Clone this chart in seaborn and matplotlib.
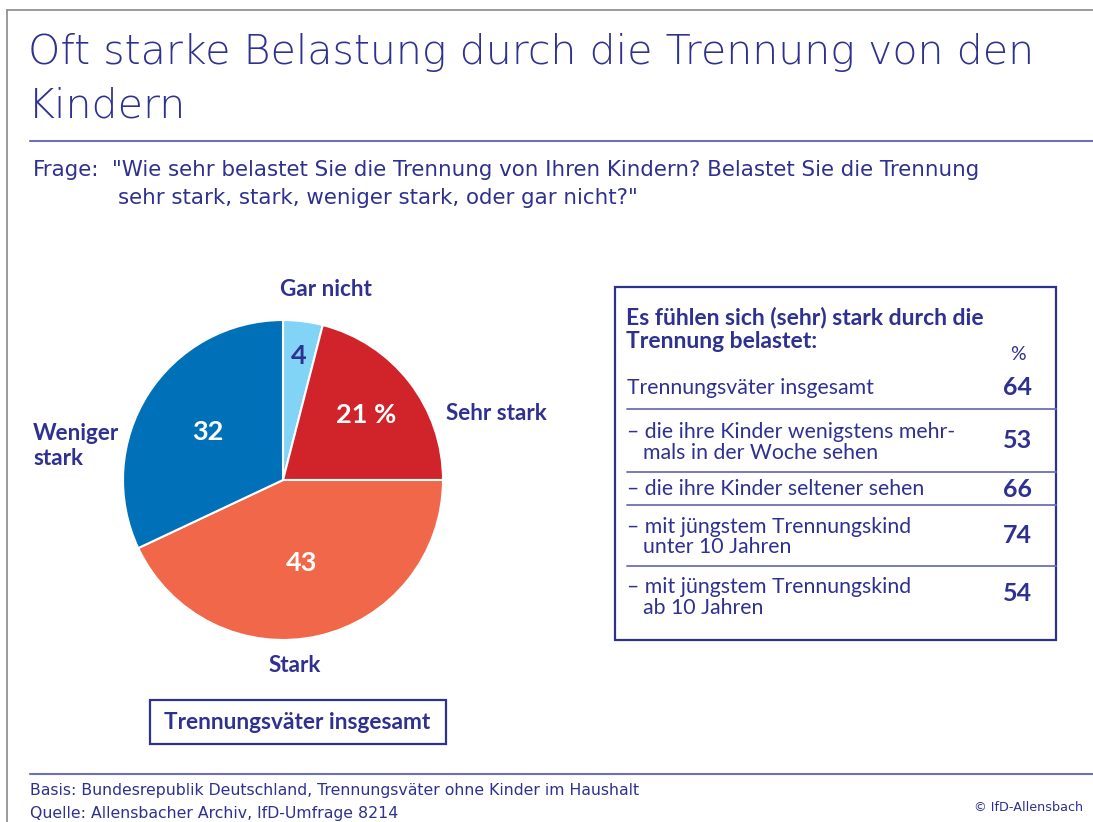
import matplotlib.pyplot as plt
import seaborn as sns
import numpy as np
from matplotlib.patches import Rectangle

# pie: share of fathers by how strongly separation from children burdens them
answers = ["Gar nicht", "Sehr stark", "Stark", "Weniger stark"]
shares = [4, 21, 43, 32]
share_texts = ["4", "21 %", "43", "32"]

# table: (very) strongly burdened, by group
groups = [
    ["Trennungsväter insgesamt"],
    ["– die ihre Kinder wenigstens mehr-", "mals in der Woche sehen"],
    ["– die ihre Kinder seltener sehen"],
    ["– mit jüngstem Trennungskind", "unter 10 Jahren"],
    ["– mit jüngstem Trennungskind", "ab 10 Jahren"],
]
group_values = [64, 53, 66, 74, 54]

navy = "#2e3190"
rule = "#6d70b8"
pie_colors = ["#82d4f6", "#d1232a", "#f0674a", "#0071b9"]

sns.set_theme(style="white")
plt.rcParams["font.family"] = ["DejaVu Sans"]
side = ["Lato", "DejaVu Sans"]

fig = plt.figure(figsize=(10.93, 8.22), dpi=100)
bg = fig.add_axes([0, 0, 1, 1])
bg.set_xlim(0, 1093)
bg.set_ylim(822, 0)
bg.axis("off")

# frame and rules
bg.plot([7, 1093], [10, 10], color="#8a8a8a", lw=1.2)
bg.plot([7, 7], [10, 822], color="#8a8a8a", lw=1.2)
bg.plot([30, 1093], [141, 141], color=rule, lw=1.5)
bg.plot([30, 1093], [774, 774], color=rule, lw=1.5)

# title and question
bg.text(28, 64, "Oft starke Belastung durch die Trennung von den", fontsize=29.6,
        color=navy, va="baseline", fontweight="light")
bg.text(28, 117, "Kindern", fontsize=29.6, color=navy, va="baseline", fontweight="light")
bg.text(33, 170, "Frage:", fontsize=15.4, color=navy, va="center")
bg.text(112, 170, "\"Wie sehr belastet Sie die Trennung von Ihren Kindern? Belastet Sie die Trennung",
        fontsize=15.4, color=navy, va="center")
bg.text(118, 198, "sehr stark, stark, weniger stark, oder gar nicht?\"",
        fontsize=15.4, color=navy, va="center")

# pie
cx, cy, r = 283, 480, 160
ax = fig.add_axes([(cx - r) / 1093, (822 - cy - r) / 822, 2 * r / 1093, 2 * r / 822])
wedges, _ = ax.pie(shares, colors=pie_colors, startangle=90, counterclock=False,
                   wedgeprops=dict(edgecolor="white", linewidth=1.5))
ax.set_xlim(-1, 1)
ax.set_ylim(-1, 1)

inner_dist = [0.78, 0.66, 0.53, 0.56]
for w, txt, d in zip(wedges, share_texts, inner_dist):
    mid = np.deg2rad((w.theta1 + w.theta2) / 2)
    col = navy if txt == "4" else "white"
    ax.text(d * np.cos(mid), d * np.sin(mid), txt, ha="center", va="center",
            fontsize=19.5, fontweight="bold", color=col, family=side)

label_pos = [(326, 289, "center"), (446, 413, "left"), (295, 665, "center"), (33, 446, "left")]
label_txt = [answers[0], answers[1], answers[2], "Weniger\nstark"]
for (x, y, ha), t in zip(label_pos, label_txt):
    bg.text(x, y, t, ha=ha, va="center", fontsize=16.2, fontweight="bold",
            color=navy, family=side, linespacing=1.2)

# base box under pie
bg.add_patch(Rectangle((150, 700), 296, 44, fill=False, edgecolor=navy, lw=1.6))
bg.text(297, 722, "Trennungsväter insgesamt", ha="center", va="center",
        fontsize=16.3, fontweight="bold", color=navy, family=side)

# table on the right
bg.add_patch(Rectangle((615, 287), 441, 353, fill=False, edgecolor=navy, lw=1.6))
bg.text(626, 317, "Es fühlen sich (sehr) stark durch die", va="center",
        fontsize=16.5, fontweight="bold", color=navy, family=side)
bg.text(626, 341, "Trennung belastet:", va="center",
        fontsize=16.5, fontweight="bold", color=navy, family=side)
bg.text(1018, 354, "%", ha="center", va="center", fontsize=14, color=navy, family=side)

row_y = [[388], [432, 453], [489], [527, 547], [587, 608]]
val_y = [387, 440, 489, 535, 593]
for lines, ys, v, vy in zip(groups, row_y, group_values, val_y):
    for i, (t, y) in enumerate(zip(lines, ys)):
        bg.text(627 if i == 0 else 643, y, t, va="center", fontsize=15.3,
                color=navy, family=side)
    bg.text(1017, vy, str(v), ha="center", va="center", fontsize=18,
            fontweight="bold", color=navy, family=side)
for y in [409, 472, 505, 566]:
    bg.plot([627, 1056], [y, y], color=rule, lw=1.3)

# footer
bg.text(30, 790, "Basis: Bundesrepublik Deutschland, Trennungsväter ohne Kinder im Haushalt",
        fontsize=11.3, color=navy, va="center")
bg.text(30, 813, "Quelle: Allensbacher Archiv, IfD-Umfrage 8214",
        fontsize=11.3, color=navy, va="center")
bg.text(1083, 807, "© IfD-Allensbach", fontsize=9.2, color=navy, va="center", ha="right")

fig.savefig("out.png", dpi=100)
